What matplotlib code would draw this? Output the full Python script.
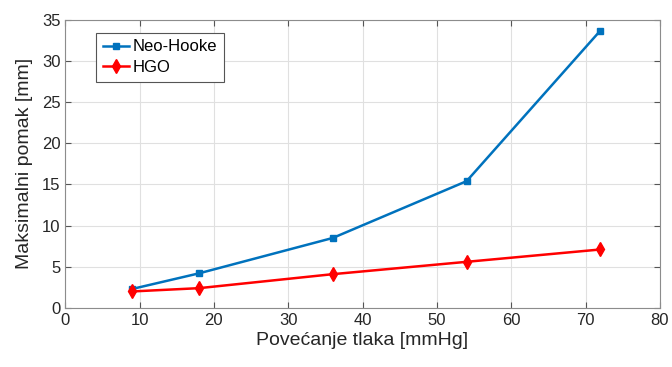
import numpy as np
import matplotlib
matplotlib.use('Agg')
import matplotlib.pyplot as plt

# data
pressure = [9, 18, 36, 54, 72]
neo_hooke = [2.3, 4.2, 8.5, 15.4, 33.7]
hgo = [2.0, 2.4, 4.1, 5.6, 7.1]

plt.rcParams['font.family'] = ['Liberation Sans', 'DejaVu Sans']

fig = plt.figure(figsize=(6.72, 3.67), dpi=100)
ax = fig.add_axes([0.097, 0.161, 0.885, 0.785])

ax.plot(pressure, neo_hooke, color='#0072BD', marker='s', markersize=5, linewidth=1.8, label='Neo-Hooke')
ax.plot(pressure, hgo, color='#FF0000', marker='d', markersize=7, linewidth=1.8, label='HGO')

ax.set_xlim(0, 80)
ax.set_ylim(0, 35)
ax.set_xticks(np.arange(0, 81, 10))
ax.set_yticks(np.arange(0, 36, 5))
ax.grid(True, color='#e0e0e0', linewidth=0.8)
ax.set_axisbelow(True)
ax.tick_params(direction='in', labelsize=12, colors='#555555', labelcolor='#262626',
               top=True, right=True, length=4)
for s in ax.spines.values():
    s.set_color('#8c8c8c')
    s.set_linewidth(0.8)

ax.set_xlabel('Povećanje tlaka [mmHg]', fontsize=14, color='#262626', labelpad=3)
ax.set_ylabel('Maksimalni pomak [mm]', fontsize=14, color='#262626', labelpad=6)

leg = ax.legend(loc='upper left', bbox_to_anchor=(0.052, 0.955), borderaxespad=0,
                fontsize=12, fancybox=False, edgecolor='#555555', framealpha=1,
                handlelength=1.6, borderpad=0.4, labelspacing=0.35, handletextpad=0.2)
leg.get_frame().set_linewidth(0.8)

fig.savefig('out.png', dpi=100)
